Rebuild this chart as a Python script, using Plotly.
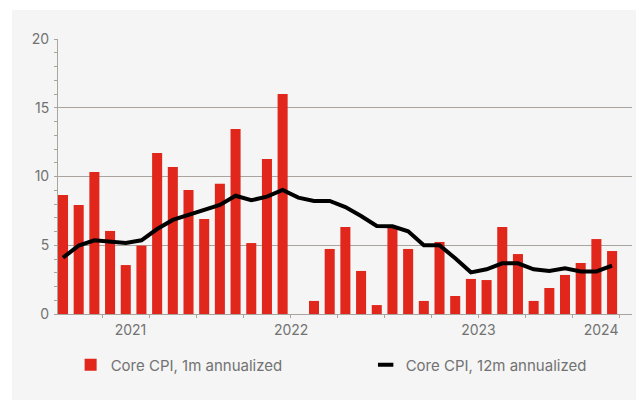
import plotly.graph_objects as go

# monthly observations, oldest first (36 months)
MONTH_INDEX = list(range(36))

CORE_1M = [
    8.65, 7.93, 10.33, 6.04, 3.56, 4.97, 11.71, 10.69, 9.02, 6.91, 9.48, 13.45,
    5.16, 11.27, 16.0, 0.0, 0.95, 4.73, 6.33, 3.13, 0.65, 6.33, 4.73, 0.95,
    5.24, 1.31, 2.55, 2.47, 6.33, 4.36, 0.95, 1.89, 2.84, 3.71, 5.45, 4.58,
]

CORE_12M = [
    4.10, 4.97, 5.36, 5.26, 5.16, 5.36, 6.18, 6.84, 7.20, 7.59, 7.93, 8.60,
    8.27, 8.53, 9.02, 8.46, 8.22, 8.22, 7.78, 7.13, 6.40, 6.38, 6.01, 5.00,
    5.00, 4.05, 3.03, 3.25, 3.69, 3.69, 3.25, 3.13, 3.32, 3.10, 3.10, 3.51,
]

YEAR_LABELS = ["2021", "2022", "2023", "2024"]
YEAR_POS = [4.3, 14.54, 26.48, 34.3]

RED = "#e1261c"
TEXT_GREY = "#727272"
GRID_GREY = "#aaa49e"
BG = "#f4f5f4"

FONT = dict(family="Inter, Roboto, sans-serif", size=14, color=TEXT_GREY)
LEGEND_FONT = dict(family="Inter, Roboto, sans-serif", size=15, color=TEXT_GREY)

traces = [
    go.Bar(
        x=MONTH_INDEX,
        y=CORE_1M,
        name="Core CPI, 1m annualized",
        marker=dict(color=RED, line=dict(width=0)),
        legend="legend",
    ),
    go.Scatter(
        x=MONTH_INDEX,
        y=CORE_12M,
        mode="lines",
        line=dict(color="black", width=4),
        showlegend=False,
    ),
    # legend entry only: short thick dash like the original key
    go.Scatter(
        x=[None],
        y=[None],
        mode="markers",
        name="Core CPI, 12m annualized",
        marker=dict(symbol="line-ew", size=11, line=dict(color="black", width=4)),
        legend="legend2",
    ),
]

# the page body adds an 8px offset, so margins are trimmed by 8
layout = go.Layout(
    width=644,
    height=400,
    margin=dict(l=50, r=20, t=31, b=94, autoexpand=False),
    paper_bgcolor="white",
    plot_bgcolor=BG,
    font=FONT,
    bargap=0.36,
    xaxis=dict(
        range=[-0.319, 36.27],
        tickmode="array",
        tickvals=YEAR_POS,
        ticktext=YEAR_LABELS,
        ticks="",
        ticklabelstandoff=3,
        showgrid=False,
        zeroline=False,
        showline=True,
        linecolor=GRID_GREY,
        linewidth=1.2,
        tickfont=FONT,
        minor=dict(tick0=2.5, dtick=3, ticks="outside", ticklen=3,
                   tickcolor=GRID_GREY, showgrid=False),
    ),
    yaxis=dict(
        range=[0, 20],
        dtick=5,
        ticks="outside",
        ticklen=3,
        tickcolor=GRID_GREY,
        ticklabelstandoff=2,
        showgrid=True,
        gridcolor=GRID_GREY,
        gridwidth=1.2,
        zeroline=False,
        showline=True,
        linecolor=GRID_GREY,
        linewidth=1,
        tickfont=FONT,
        minor=dict(dtick=1, ticks="outside", ticklen=3, tickcolor=GRID_GREY,
                   showgrid=False),
    ),
    legend=dict(x=0.022, y=-0.1855, xanchor="left", yanchor="middle",
                bgcolor="rgba(0,0,0,0)", font=LEGEND_FONT),
    legend2=dict(x=0.536, y=-0.1855, xanchor="left", yanchor="middle",
                 bgcolor="rgba(0,0,0,0)", font=LEGEND_FONT),
    shapes=[
        dict(type="rect", xref="paper", yref="paper", layer="below",
             x0=-0.0801, x1=1.05, y0=-0.4, y1=1.1055,
             fillcolor=BG, line=dict(width=0)),
    ],
)

fig = go.Figure(data=traces, layout=layout)
fig.write_html("out.html")
